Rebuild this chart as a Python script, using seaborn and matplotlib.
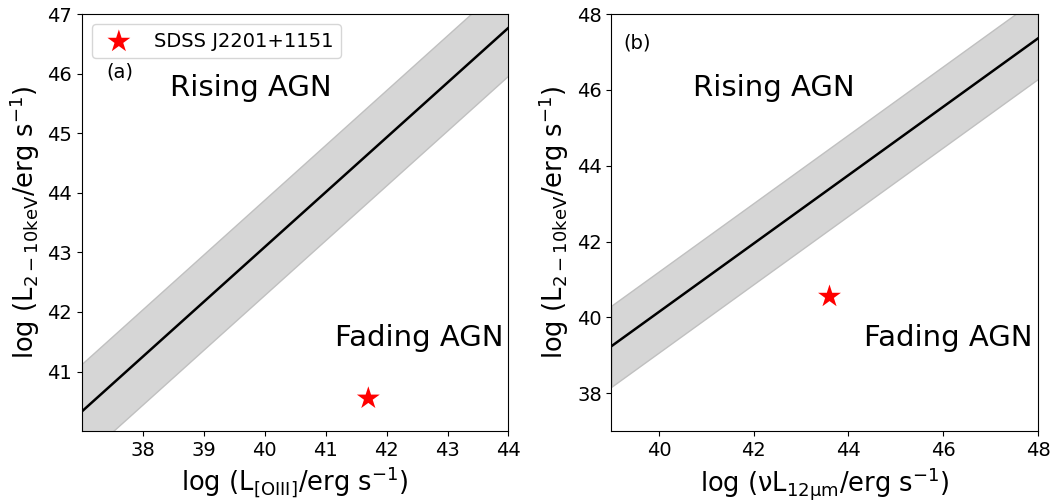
import matplotlib
matplotlib.use("Agg")
import matplotlib.pyplot as plt
import seaborn as sns
import numpy as np
import pandas as pd

# Panel (a): L_2-10keV vs L_[OIII] relation
oiii_x = [37.0, 44.0]
oiii_fit = [40.33, 46.77]
oiii_scatter = 0.8
oiii_src = [41.7]
oiii_src_y = [40.55]

# Panel (b): L_2-10keV vs nuL_12um relation
mir_x = [39.0, 48.0]
mir_fit = [39.24, 47.36]
mir_scatter = 1.07
mir_src = [43.6]
mir_src_y = [40.55]

source_name = "SDSS J2201+1151"

fig, (ax1, ax2) = plt.subplots(1, 2, figsize=(10.64, 5.03), dpi=100)
fig.subplots_adjust(left=0.077, right=0.9756, bottom=0.143, top=0.972, wspace=0.2415)


def draw_panel(ax, xs, fit, scatter, sx, sy, with_legend):
    xs = np.asarray(xs)
    fit = np.asarray(fit)
    ax.fill_between(xs, fit - scatter, fit + scatter, color="#d6d6d6",
                    edgecolor="#c0c0c0", linewidth=1.0, zorder=1)
    sns.lineplot(x=xs, y=fit, ax=ax, color="black", linewidth=1.8, zorder=2)
    sns.scatterplot(x=sx, y=sy, ax=ax, marker="*", s=300, color="red",
                    edgecolor="none", zorder=3,
                    label=source_name if with_legend else None)


draw_panel(ax1, oiii_x, oiii_fit, oiii_scatter, oiii_src, oiii_src_y, True)
draw_panel(ax2, mir_x, mir_fit, mir_scatter, mir_src, mir_src_y, False)

ax1.set_xlim(37, 44)
ax1.set_ylim(40, 47)
ax1.set_xticks([38, 39, 40, 41, 42, 43, 44])
ax1.set_yticks([41, 42, 43, 44, 45, 46, 47])
ax2.set_xlim(39, 48)
ax2.set_ylim(37, 48)
ax2.set_xticks([40, 42, 44, 46, 48])
ax2.set_yticks([38, 40, 42, 44, 46, 48])

ylab = r"log (L$_{2-10\mathrm{keV}}$/erg s$^{-1}$)"
ax1.set_xlabel(r"log (L$_{\mathrm{[OIII]}}$/erg s$^{-1}$)", fontsize=18.5)
ax1.set_ylabel(ylab, fontsize=18.5)
ax2.set_xlabel(r"log (νL$_{12\mathrm{\mu m}}$/erg s$^{-1}$)", fontsize=18.5)
ax2.set_ylabel(ylab, fontsize=18.5)

for ax in (ax1, ax2):
    ax.tick_params(labelsize=14)

ax1.text(39.77, 45.76, "Rising AGN", fontsize=21, ha="center", va="center")
ax1.text(42.53, 41.57, "Fading AGN", fontsize=21, ha="center", va="center")
ax2.text(42.43, 46.05, "Rising AGN", fontsize=21, ha="center", va="center")
ax2.text(46.1, 39.45, "Fading AGN", fontsize=21, ha="center", va="center")

ax1.text(0.088, 0.86, "(a)", transform=ax1.transAxes, fontsize=14,
         ha="center", va="center")
ax2.text(0.06, 0.93, "(b)", transform=ax2.transAxes, fontsize=14,
         ha="center", va="center")

ax1.legend(loc="upper left", fontsize=14, handletextpad=0.8)

fig.savefig("out.png", dpi=100)
